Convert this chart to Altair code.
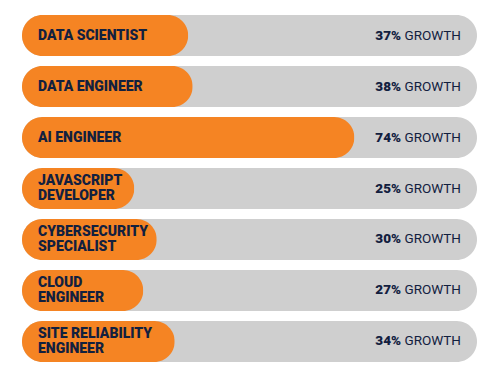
import altair as alt
import pandas as pd

roles = ["DATA SCIENTIST", "DATA ENGINEER", "AI ENGINEER", "JAVASCRIPT\nDEVELOPER",
         "CYBERSECURITY\nSPECIALIST", "CLOUD\nENGINEER", "SITE RELIABILITY\nENGINEER"]
growth = [37, 38, 74, 25, 30, 27, 34]
TRACK = 101.3  # grey track length on the growth scale

lines = [r.split("\n") for r in roles]
df = pd.DataFrame({
    "role": roles,
    "growth": growth,
    "full": [TRACK] * len(roles),
    "pct": [f"{g}%" for g in growth],
    "word": ["GROWTH"] * len(roles),
    "line1": [l[0] for l in lines],
    "line2": [l[1] if len(l) > 1 else "" for l in lines],
    "nlines": [len(l) for l in lines],
})

ORANGE = "#F58423"
GREY = "#CFCFCF"
NAVY = "#12203F"
FONT = "Roboto"

xs = alt.Scale(domain=[0, TRACK], range=[14, 469], nice=False, zero=True)
y = alt.Y("role:N", sort=roles,
          scale=alt.Scale(range=[7, 354], paddingInner=0.196, paddingOuter=0), axis=None)

base = alt.Chart(df)

bg = base.mark_bar(color=GREY, cornerRadius=20.5).encode(
    x=alt.X("full:Q", scale=xs, axis=None), y=y)
fg = base.mark_bar(color=ORANGE, cornerRadius=20.5).encode(
    x=alt.X("growth:Q", scale=xs, axis=None), y=y)

lab_style = dict(align="left", baseline="middle", font=FONT, fontWeight=900,
                 fontSize=14, color=NAVY)

single = base.transform_filter("datum.nlines == 1").mark_text(dx=16, **lab_style).encode(
    x=alt.datum(0), y=y, text="line1:N")
top = base.transform_filter("datum.nlines == 2").mark_text(dx=16, dy=-7.5, **lab_style).encode(
    x=alt.datum(0), y=y, text="line1:N")
bottom = base.transform_filter("datum.nlines == 2").mark_text(dx=16, dy=7.5, **lab_style).encode(
    x=alt.datum(0), y=y, text="line2:N")

word = base.mark_text(
    align="right", baseline="middle", font=FONT, fontWeight="normal", fontSize=13.5,
    color=NAVY, dx=-16
).encode(x=alt.datum(TRACK), y=y, text="word:N")

pct = base.mark_text(
    align="right", baseline="middle", font=FONT, fontWeight=900, fontSize=13.5,
    color=NAVY, dx=-76
).encode(x=alt.datum(TRACK), y=y, text="pct:N")

chart = alt.layer(bg, fg, single, top, bottom, word, pct).properties(
    width=473, height=357, padding=0,
    autosize=alt.AutoSizeParams(type="none"),
).configure_view(stroke=None)

chart.save("out.html", embed_options={"renderer": "svg", "actions": False})
